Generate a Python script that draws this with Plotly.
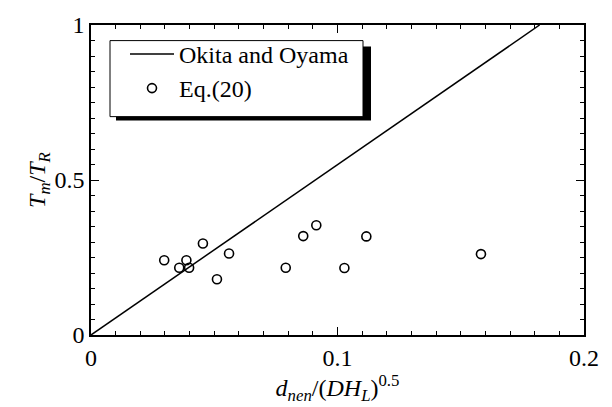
import plotly.graph_objects as go

# Data
eq_x = [0.0297, 0.0358, 0.0387, 0.0398, 0.0454, 0.0511, 0.0560,
        0.0790, 0.0861, 0.0914, 0.1028, 0.1117, 0.1582]
eq_y = [0.241, 0.217, 0.241, 0.217, 0.295, 0.180, 0.263,
        0.217, 0.319, 0.354, 0.216, 0.318, 0.261]
line_x = [0.0, 0.182]
line_y = [0.0, 1.0]

x_ticks = [0, 0.1, 0.2]
x_ticktext = ["0", "0.1", "0.2"]
y_ticks = [0, 0.5, 1]
y_ticktext = ["0", "0.5", "1"]

FONT = "Liberation Serif"
FS = 24

fig = go.Figure()
fig.add_trace(go.Scatter(x=line_x, y=line_y, mode="lines", name="Okita and Oyama",
                         line=dict(color="black", width=1.5)))
fig.add_trace(go.Scatter(x=eq_x, y=eq_y, mode="markers", name="Eq.(20)",
                         marker=dict(symbol="circle-open", size=9, color="black",
                                     line=dict(width=1.6, color="black"))))

axis_common = dict(showgrid=False, zeroline=False, showline=True, linecolor="black",
                   linewidth=1.5, mirror="ticks", ticks="inside", ticklen=8,
                   tickwidth=1.2, tickcolor="black",
                   tickfont=dict(family=FONT, size=FS, color="black"))

fig.update_xaxes(range=[0, 0.2], tickvals=x_ticks, ticktext=x_ticktext,
                 minor=dict(dtick=0.01, ticks="inside", ticklen=4, tickwidth=1, tickcolor="black"),
                 title=dict(text="<i>d</i><sub><i>nen</i></sub>/(<i>DH</i><sub><i>L</i></sub>)<sup>0.5</sup>",
                            font=dict(family=FONT, size=FS, color="black"), standoff=2),
                 **axis_common)
fig.update_yaxes(range=[0, 1], tickvals=y_ticks, ticktext=y_ticktext,
                 minor=dict(dtick=0.05, ticks="inside", ticklen=4, tickwidth=1, tickcolor="black"),
                 title=dict(text="<i>T</i><sub><i>m</i></sub>/<i>T</i><sub><i>R</i></sub>",
                            font=dict(family=FONT, size=FS, color="black"), standoff=2),
                 **axis_common)

W, H = 612, 407
L, R, T, B = 91, 28, 17, 72
pw, ph = W - L - R, H - T - B

def px_x(p):
    return (p - L) / pw

def px_y(p):
    return 1 - (p - T) / ph

# legend box shadow + frame
fig.add_shape(type="rect", xref="paper", yref="paper",
              x0=px_x(116), x1=px_x(371), y0=px_y(115), y1=px_y(39),
              fillcolor="black", line=dict(width=0), layer="above")
fig.add_shape(type="rect", xref="paper", yref="paper",
              x0=px_x(110), x1=px_x(363), y0=px_y(111), y1=px_y(33),
              fillcolor="white", line=dict(width=1, color="black"), layer="above")

fig.update_layout(
    width=W, height=H,
    margin=dict(l=L, r=R, t=T, b=B),
    paper_bgcolor="white", plot_bgcolor="white",
    font=dict(family=FONT, size=FS, color="black"),
    showlegend=True,
    legend=dict(x=px_x(125), y=px_y(24), xanchor="left", yanchor="top",
                bgcolor="rgba(0,0,0,0)", borderwidth=0,
                font=dict(family=FONT, size=FS, color="black"),
                itemwidth=44, tracegroupgap=0),
)

fig.write_html("out.html")
